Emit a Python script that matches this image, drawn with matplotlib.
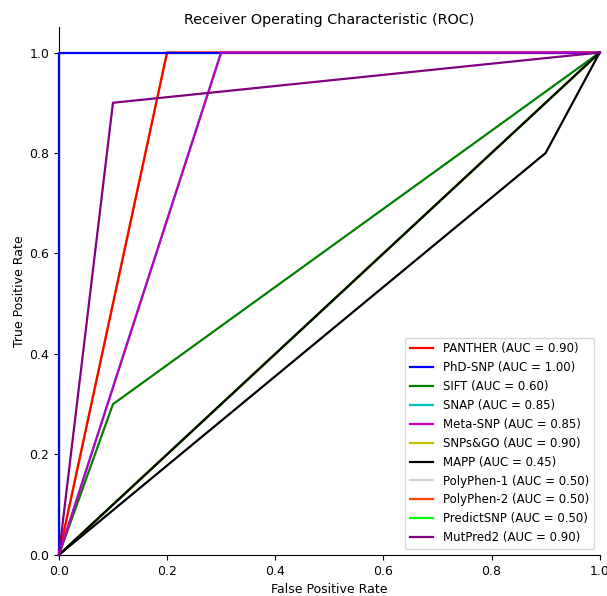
import matplotlib
matplotlib.use("Agg")
import matplotlib.pyplot as plt

names = ["PANTHER", "PhD-SNP", "SIFT", "SNAP", "Meta-SNP", "SNPs&GO", "MAPP",
         "PolyPhen-1", "PolyPhen-2", "PredictSNP", "MutPred2"]
aucs = [0.90, 1.00, 0.60, 0.85, 0.85, 0.90, 0.45, 0.50, 0.50, 0.50, 0.90]
fprs = [[0, 0.2, 1], [0, 0, 1], [0, 0.1, 1], [0, 0.3, 1], [0, 0.3, 1], [0, 0.2, 1],
        [0, 0.9, 1], [0, 1], [0, 1], [0, 1], [0, 0.1, 1]]
tprs = [[0, 1, 1], [0, 1, 1], [0, 0.3, 1], [0, 1, 1], [0, 1, 1], [0, 1, 1],
        [0, 0.8, 1], [0, 1], [0, 1], [0, 1], [0, 0.9, 1]]
colors = ["red", "blue", "green", "c", "m", "y", "black",
          "lightgray", "orangered", "lime", "purple"]
zorders = [3, 4, 3, 1, 5, 1, 3, 1, 1, 1, 6]
diag_fpr = [0, 1]
diag_tpr = [0, 1]

fig = plt.figure(figsize=(6.07, 5.96), dpi=100)
ax = fig.add_axes([0.097, 0.069, 0.891, 0.885])
for n, a, x, y, c, z in zip(names, aucs, fprs, tprs, colors, zorders):
    ax.plot(x, y, color=c, lw=1.6, zorder=z, clip_on=False,
            label=f"{n} (AUC = {a:.2f})")
ax.plot(diag_fpr, diag_tpr, color="black", lw=1.6, zorder=3.5)
ax.set_xlim(0, 1.0)
ax.set_ylim(0, 1.05)
ax.set_xticks([0, 0.2, 0.4, 0.6, 0.8, 1.0])
ax.set_yticks([0, 0.2, 0.4, 0.6, 0.8, 1.0])
ax.spines["top"].set_visible(False)
ax.spines["right"].set_visible(False)
ax.tick_params(labelsize=9)
ax.set_xlabel("False Positive Rate", fontsize=9)
ax.set_ylabel("True Positive Rate", fontsize=9, labelpad=2)
ax.set_title("Receiver Operating Characteristic (ROC)", fontsize=10.4, pad=2)
ax.legend(loc="lower right", fontsize=8.5)
fig.savefig("out.png", dpi=100)
